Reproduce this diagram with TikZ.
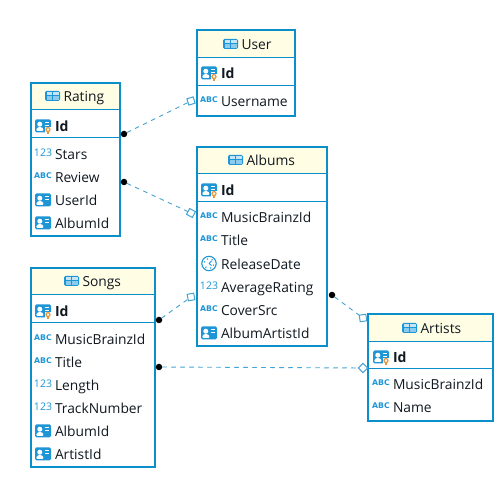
\documentclass[tikz,border=0pt]{standalone}
\usepackage{fontspec}
\setmainfont{Open Sans}
\newfontfamily\iconfont{DejaVu Sans}
\usetikzlibrary{shapes.geometric}
\definecolor{edge}{HTML}{0A8FCB}
\definecolor{headbg}{HTML}{FFFDE3}
\definecolor{iconblue}{HTML}{1E96D6}
\definecolor{iconpale}{HTML}{8CCBEC}
\definecolor{relblue}{HTML}{45A3D3}
\definecolor{keyorange}{HTML}{E8953A}
\definecolor{inktext}{HTML}{101820}
\newcommand{\etable}[9]{%
 % name, x, y, w, h, div1, div2, title x, title
 \node[tablebox,anchor=north west,minimum width=#4pt,minimum height=#5pt] (#1) at (#2,#3) {};
 \begin{scope}
  \clip (#1.north west) rectangle (#1.south east);
  \fill[headbg] (#1.north west) rectangle (#2+#4,#6);
 \end{scope}
 \draw[tableframe] (#1.north west) rectangle (#1.south east);
 \draw[divider] (#2,#6) -- (#2+#4,#6);
 \draw[divider] (#2,#7) -- (#2+#4,#7);
 \pic at (#8+7.5,#6-14) {tableicon};
 \node[rowtext] (#1title) at (#8+18.5,#6-8) {#9};
}
\newcommand{\idrow}[4]{\pic at (#2,#3) {keyicon}; \node[rowtext,font=\fontsize{14}{16}\selectfont\bfseries] (#1) at (#2+12,#3+6) {#4};}
\newcommand{\abcrow}[4]{\pic at (#2,#3) {abcicon}; \node[rowtext] (#1) at (#2+12,#3+6) {#4};}
\newcommand{\numrow}[4]{\pic at (#2,#3) {numicon}; \node[rowtext] (#1) at (#2+12,#3+6) {#4};}
\newcommand{\fkrow}[4]{\pic at (#2,#3) {cardicon}; \node[rowtext] (#1) at (#2+12,#3+6) {#4};}
\newcommand{\daterow}[4]{\pic at (#2,#3) {dateicon}; \node[rowtext] (#1) at (#2+12,#3+6) {#4};}
\tikzset{
 x=1pt,y=-1pt,
 tablebox/.style={draw=edge,line width=2pt,fill=white,inner sep=0pt,outer sep=0pt},
 tableframe/.style={draw=edge,line width=2pt},
 divider/.style={draw=edge,line width=1pt},
 rowtext/.style={anchor=base west,inner sep=0pt,outer sep=0pt,text=inktext,font=\fontsize{13.8}{16}\selectfont},
 dot/.style={circle,fill=black,inner sep=0pt,minimum size=6.5pt,outer sep=0pt},
 dia/.style={draw=relblue,fill=white,line width=1pt,inner sep=0pt,outer sep=0pt,minimum size=6.6pt,rectangle},
 rel/.style={draw=relblue,line width=.9pt,dash pattern=on 4.5pt off 4.5pt},
 tableicon/.pic={
  \fill[iconblue,rounded corners=1.5pt] (-7.5,-5) rectangle (7.5,5);
  \fill[iconpale] (-6,-0.2) rectangle (-0.6,3.6);
  \fill[iconpale] (0.6,-0.2) rectangle (6,3.6);
  \fill[white!75!iconblue] (-6,-3.6) rectangle (6,-1.2);
  \draw[iconblue,line width=.8pt] (0,-4) -- (0,4);
 },
 cardicon/.pic={
  \fill[iconblue,rounded corners=1.5pt] (-8,-6.5) rectangle (8,6.5);
  \fill[white] (-3.2,-1.8) circle (2.5);
  \fill[white,rounded corners=1pt] (-6.6,5) -- (-6.6,2.6) -- (-4.5,1) -- (-1.8,1) -- (0.4,2.6) -- (0.4,5) -- cycle;
  \fill[white] (1.8,-3.6) rectangle (6.4,-2.5);
  \fill[white] (1.8,-0.8) rectangle (6.4,0.3);
 },
 keyicon/.pic={
  \fill[iconblue,rounded corners=1.5pt] (-8,-6.5) rectangle (8,6.5);
  \fill[white] (-3.2,-1.8) circle (2.5);
  \fill[white,rounded corners=1pt] (-6.6,5) -- (-6.6,2.6) -- (-4.5,1) -- (-1.8,1) -- (0.4,2.6) -- (0.4,5) -- cycle;
  \fill[white] (1.8,-3.6) rectangle (6.4,-2.5);
  \fill[white] (1.8,-0.8) rectangle (6.4,0.3);
  \fill[white] (1.5,1.2) rectangle (8.5,8);
  \draw[keyorange,line width=1.2pt,fill=white] (5,3.6) circle (2);
  \draw[keyorange,line width=1.4pt] (5,5.4) -- (5,8);
 },
 abcicon/.pic={\node[inner sep=0pt,text=iconblue,font=\iconfont\fontsize{7.8}{9}\selectfont\bfseries] at (0,-1) {ABC};},
 numicon/.pic={\node[inner sep=0pt,text=iconblue,font=\fontsize{10.5}{12}\selectfont] at (0,-1) {123};},
 dateicon/.pic={
  \draw[iconblue,line width=1.1pt,fill=white] (0,0) circle (7.2);
  \foreach \a in {20,70,130,200,250,310}{\fill[iconblue] (\a:4.8) circle (.8);}
  \draw[iconblue,line width=.9pt] (0,0) -- (2.5,-2.5) (0,0) -- (2.6,2);
 },
}
\begin{document}
\begin{tikzpicture}
\useasboundingbox (0,0) rectangle (504,478);
\fill[white] (0,0) rectangle (504,478);
% User
\etable{user}{197}{30}{98}{86}{58}{86}{223}{User}
\idrow{userid}{209}{73}{Id}
\abcrow{username}{209}{101}{Username}
% Rating
\etable{rating}{31}{83}{89}{153}{110}{138}{45}{Rating}
\idrow{ratingid}{43}{126}{Id}
\numrow{stars}{43}{154}{Stars}
\abcrow{review}{43}{177}{Review}
\fkrow{ruser}{43}{200}{UserId}
\fkrow{ralbum}{43}{223}{AlbumId}
% Albums
\etable{albums}{197}{147}{130}{199}{174}{202}{228}{Albums}
\idrow{albumid}{209}{190}{Id}
\abcrow{ambid}{209}{217}{MusicBrainzId}
\abcrow{atitle}{209}{240}{Title}
\daterow{adate}{209}{263.5}{ReleaseDate}
\numrow{arating}{209}{286.5}{AverageRating}
\abcrow{acover}{209}{309.5}{CoverSrc}
\fkrow{aartist}{209}{333}{AlbumArtistId}
% Artists
\etable{artists}{368}{314}{125}{107}{342}{369}{402}{Artists}
\idrow{artistid}{381}{357}{Id}
\abcrow{armbid}{381}{384}{MusicBrainzId}
\abcrow{arname}{381}{407}{Name}
% Songs
\etable{songs}{31}{268}{124}{199}{295}{323}{64}{Songs}
\idrow{songid}{43}{311}{Id}
\abcrow{smbid}{43}{339}{MusicBrainzId}
\abcrow{stitle}{43}{361.5}{Title}
\numrow{slength}{43}{385}{Length}
\numrow{strack}{43}{408}{TrackNumber}
\fkrow{salbum}{43}{431}{AlbumId}
\fkrow{sartist}{43}{454}{ArtistId}
% Connector ends
\node[dot] (d1) at (124,134) {};
\node[dot] (d2) at (124,182) {};
\node[dot] (d3) at (332,295) {};
\node[dot] (d4) at (159,320) {};
\node[dot] (d5) at (159,367) {};
\node[dia,rotate=17] (m1) at (191,101) {};
\node[dia,rotate=-27] (m2) at (191,213) {};
\node[dia,rotate=8] (m3) at (363,318) {};
\node[dia,rotate=10] (m4) at (191,297) {};
\node[dia,rotate=45] (m5) at (363,368) {};
\draw[rel] (d1) -- (m1);
\draw[rel] (d2) -- (m2);
\draw[rel] (d3) -- (m3);
\draw[rel] (d4) -- (m4);
\draw[rel] (d5) -- (m5);
\end{tikzpicture}
\end{document}
